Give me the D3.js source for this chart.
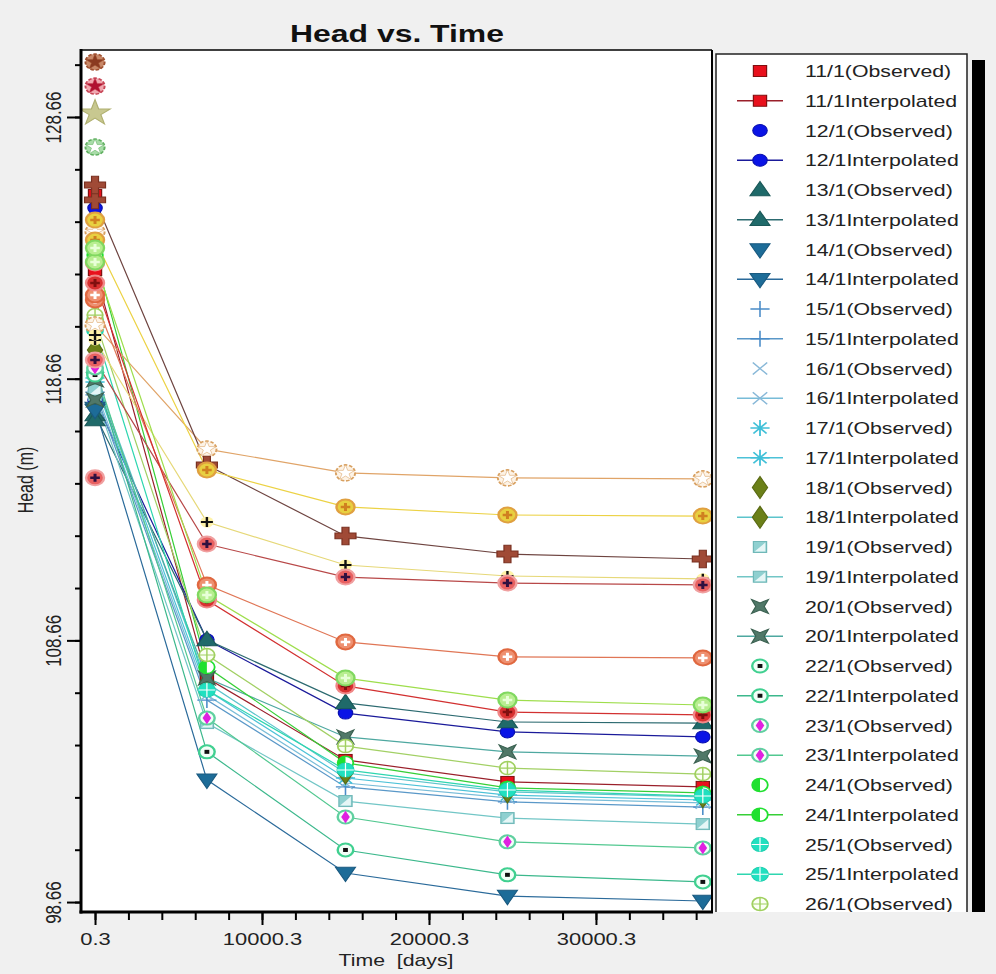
<!DOCTYPE html>
<html>
<head>
<meta charset="utf-8">
<script src="https://cdn.jsdelivr.net/npm/d3@7"></script>
<style>
  body { margin: 0; background: #f0f0f0; }
  text { font-family: "Liberation Sans", Arial, sans-serif; fill: #222; }
</style>
</head>
<body>
<svg id="chart" width="996" height="974"></svg>
<script>
// sample times (days)
var times = [0.3, 6700, 15000, 24700, 36400];

var wells = ["11/1", "12/1", "13/1", "14/1", "15/1", "16/1", "17/1", "18/1", "19/1", "20/1",
  "22/1", "23/1", "24/1", "25/1", "26/1", "27/1", "28/1", "29/1", "30/1", "31/1",
  "32/1", "33/1", "34/1", "35/1", "36/1", "37/1", "38/1"];

// observed head at t = 0.3
var observedHead = [125.68, 125.18, 117.08, 117.46, 118.04, 118.42, 118.69, 119.76, 118.23, 117.85,
  118.80, 120.90, 123.58, 123.77, 121.09, 124.27, 126.06, 124.72, 120.33, 114.87,
  121.86, 123.08, 123.65, 128.81, 129.84, 130.76, 127.51];

// interpolated head at each time
var interpolatedHead = [
  [122.81, 107.22, 104.09, 103.25, 103.06],
  [117.85, 108.68, 105.88, 105.16, 104.97],
  [117.27, 108.68, 106.27, 105.54, 105.50],
  [117.54, 103.33, 99.77, 98.89, 98.70],
  [118.15, 106.38, 103.06, 102.49, 102.29],
  [118.30, 106.57, 103.21, 102.64, 102.45],
  [118.53, 106.76, 103.40, 102.75, 102.56],
  [118.80, 107.03, 103.59, 102.87, 102.68],
  [118.04, 105.50, 102.52, 101.87, 101.64],
  [118.61, 107.22, 104.97, 104.40, 104.24],
  [118.92, 104.40, 100.65, 99.70, 99.43],
  [119.07, 105.69, 101.91, 100.96, 100.73],
  [123.39, 107.64, 103.98, 103.02, 102.83],
  [120.52, 106.76, 103.71, 102.94, 102.71],
  [120.90, 108.10, 104.62, 103.78, 103.55],
  [120.71, 115.97, 115.06, 114.87, 114.83],
  [125.49, 115.36, 112.65, 111.96, 111.77],
  [123.96, 115.17, 113.76, 113.45, 113.41],
  [120.14, 113.18, 111.54, 111.12, 111.01],
  [119.37, 112.34, 111.08, 110.85, 110.78],
  [121.67, 110.78, 108.60, 108.03, 107.99],
  [122.32, 110.20, 106.92, 105.92, 105.81],
  [123.12, 110.39, 107.22, 106.38, 106.19],
  null, null, null, null
];

var yTickValues = [98.66, 108.66, 118.66, 128.66];
var xTickValues = [0.3, 10000.3, 20000.3, 30000.3];

// styles per well
var lineColor = ["#9a1f2a", "#1a1a9a", "#2c6a70", "#2a6a9a", "#5a98c8", "#78bcd8", "#4cc2d8", "#5cc4cc", "#72c6c6", "#4ea8a0",
  "#3cb88c", "#52c890", "#36cf36", "#2ed6b0", "#a2d064", "#e0a468", "#6e4440", "#ecd244", "#e6d878", "#b84848",
  "#e07656", "#d23030", "#9ede4c", null, null, null, null];
var markerKind = ["square", "circle", "triUp", "triDown", "plus", "cross", "asterisk", "diamond", "halfSquare", "bowtie",
  "ringDot", "ringDiamond", "halfCircle", "crossCircle", "ringCross", "starRing", "blob", "ringX", "dotPlus", "ringX",
  "ringX", "ringX", "ringX", "star", "starRing", "starRing", "starRing"];
var markerFill = ["#e8101c", "#0a14e6", "#1f6a6a", "#1d6c98", "#4a8cc8", "#88b8d8", "#40c0d8", "#6b8018", "#8fd0d0", "#507868",
  "#40d090", "#60d0a0", "#20e030", "#20e0c0", "#a0d060", "#fdf3e6", "#a04a36", "#e8d040", "#fff3a8", "#e86060",
  "#ee9070", "#d83030", "#b8ee90", "#c8c890", "#f0a8b0", "#c88868", "#a8dca8"];
var markerStroke = ["#801010", "#0a10b0", "#1a5858", "#1a5a80", "none", "none", "none", "#5a6a14", "#70b8b8", "#3a6050",
  "#40d090", "#60d0a0", "#20d030", "#20d0b0", "#a0d060", "#d8a060", "#7a3020", "#e0a040", "none", "#f0a0a0",
  "#e06840", "#f08888", "#80d860", "#b0b070", "#c84858", "#a05030", "#60b060"];
var markerInner = [null, null, null, null, null, null, null, null, "#e6f6f6", null,
  "#111", "#e020e0", null, "#fff", null, "#fff", null, "#d08020", "#111", "#301040",
  "#fff", "#801010", "#e8ffd8", null, "#b01030", "#8a3a20", "#fff"];

var SX = 1.33; // the capture is stretched horizontally
var MX = 1.2;  // marker stretch

var svg = d3.select("#chart");
var plot = { left: 82, right: 712, top: 50, bottom: 912 };

var x = d3.scaleLinear().domain([-780, 36950]).range([plot.left, plot.right]);
var y = d3.scaleLinear().domain([98.28, 131.22]).range([plot.bottom, plot.top]);

svg.append("rect").attr("width", 996).attr("height", 974).attr("fill", "#f0f0f0");
svg.append("rect")
  .attr("x", plot.left).attr("y", plot.top)
  .attr("width", plot.right - plot.left).attr("height", plot.bottom - plot.top)
  .attr("fill", "#fff");

function drawMarker(g, k, fill, stroke, inner) {
  var sym = function (type, size) { return d3.symbol().type(type).size(size)(); };
  switch (k) {
    case "square":
      g.append("rect").attr("x", -5.5).attr("y", -5.5).attr("width", 11).attr("height", 11)
        .attr("fill", fill).attr("stroke", stroke);
      break;
    case "circle":
      g.append("circle").attr("r", 6).attr("fill", fill).attr("stroke", stroke);
      break;
    case "triUp":
      g.append("path").attr("d", sym(d3.symbolTriangle, 120)).attr("transform", "translate(0,1)")
        .attr("fill", fill).attr("stroke", stroke);
      break;
    case "triDown":
      g.append("path").attr("d", sym(d3.symbolTriangle, 120)).attr("transform", "rotate(180) translate(0,1)")
        .attr("fill", fill).attr("stroke", stroke);
      break;
    case "plus":
      g.append("path").attr("d", "M-8,0H8M0,-8V8").attr("stroke", fill).attr("stroke-width", 1.3).attr("fill", "none");
      break;
    case "cross":
      g.append("path").attr("d", "M-6,-6L6,6M6,-6L-6,6").attr("stroke", fill).attr("stroke-width", 1.3).attr("fill", "none");
      break;
    case "asterisk":
      g.append("path").attr("d", "M-8,0H8M0,-8V8M-5.5,-5.5L5.5,5.5M5.5,-5.5L-5.5,5.5")
        .attr("stroke", fill).attr("stroke-width", 1.5).attr("fill", "none");
      break;
    case "diamond":
      g.append("path").attr("d", sym(d3.symbolDiamond, 140)).attr("fill", fill).attr("stroke", stroke);
      break;
    case "halfSquare":
      g.append("rect").attr("x", -5.5).attr("y", -5.5).attr("width", 11).attr("height", 11)
        .attr("fill", fill).attr("stroke", stroke);
      g.append("path").attr("d", "M4.5,-4.5V4.5H-4.5Z").attr("fill", inner);
      break;
    case "bowtie":
      g.append("path").attr("d", "M-7,-7L0,-3.5L7,-7L3.5,0L7,7L0,3.5L-7,7L-3.5,0Z")
        .attr("fill", fill).attr("stroke", stroke);
      break;
    case "ringDot":
      g.append("circle").attr("r", 6.5).attr("fill", "#f2fff8").attr("stroke", fill).attr("stroke-width", 2);
      g.append("rect").attr("x", -2).attr("y", -2).attr("width", 4).attr("height", 4).attr("fill", inner);
      break;
    case "ringDiamond":
      g.append("circle").attr("r", 6.5).attr("fill", "#f2fff8").attr("stroke", fill).attr("stroke-width", 2);
      g.append("path").attr("d", sym(d3.symbolDiamond, 45)).attr("fill", inner);
      break;
    case "halfCircle":
      g.append("circle").attr("r", 6.5).attr("fill", "#fff").attr("stroke", fill).attr("stroke-width", 1.5);
      g.append("path").attr("d", "M0,-6.5A6.5,6.5 0 0 0 0,6.5Z").attr("fill", fill);
      break;
    case "crossCircle":
      g.append("circle").attr("r", 7).attr("fill", fill).attr("stroke", stroke);
      g.append("path").attr("d", "M-7,0H7M0,-7V7").attr("stroke", inner).attr("stroke-width", 1);
      break;
    case "ringCross":
      g.append("circle").attr("r", 6.5).attr("fill", "#fbfff4").attr("stroke", fill).attr("stroke-width", 1.5);
      g.append("path").attr("d", "M-6.5,0H6.5M0,-6.5V6.5").attr("stroke", fill).attr("stroke-width", 1.2);
      break;
    case "starRing":
      g.append("circle").attr("r", 8).attr("fill", fill).attr("stroke", stroke)
        .attr("stroke-width", 1.6).attr("stroke-dasharray", "3,1.5");
      g.append("path").attr("d", sym(d3.symbolStar, 75)).attr("fill", inner).attr("stroke", stroke).attr("stroke-width", 0.5);
      break;
    case "blob":
      g.append("path").attr("d", sym(d3.symbolCross, 170)).attr("fill", fill).attr("stroke", stroke);
      break;
    case "dotPlus":
      g.append("circle").attr("r", 5.5).attr("fill", fill);
      g.append("path").attr("d", "M-5,0H5M0,-5V5").attr("stroke", inner).attr("stroke-width", 2);
      break;
    case "ringX":
      g.append("circle").attr("r", 7.5).attr("fill", fill).attr("stroke", stroke).attr("stroke-width", 2);
      g.append("path").attr("d", "M-4,0H4M0,-4V4").attr("stroke", inner).attr("stroke-width", 2.5);
      break;
    case "star":
      g.append("path").attr("d", sym(d3.symbolStar, 200)).attr("fill", fill).attr("stroke", stroke);
      break;
  }
}

function at(px, py) {
  return "translate(" + px + "," + py + ") scale(" + MX + ",1)";
}

// ---- series
svg.append("clipPath").attr("id", "plotClip").append("rect")
  .attr("x", plot.left).attr("y", plot.top)
  .attr("width", plot.right - plot.left).attr("height", plot.bottom - plot.top);

var data = svg.append("g").attr("clip-path", "url(#plotClip)");
var line = d3.line().x(function (d, i) { return x(times[i]); }).y(function (d) { return y(d); });

wells.forEach(function (w, i) {
  var vals = interpolatedHead[i];
  if (!vals) return;
  data.append("path").attr("d", line(vals))
    .attr("fill", "none").attr("stroke", lineColor[i]).attr("stroke-width", 1.2);
});

wells.forEach(function (w, i) {
  var vals = interpolatedHead[i];
  if (vals) {
    vals.forEach(function (v, j) {
      var g = data.append("g").attr("transform", at(x(times[j]), y(v)));
      drawMarker(g, markerKind[i], markerFill[i], markerStroke[i], markerInner[i]);
    });
  }
  var go = data.append("g").attr("transform", at(x(times[0]), y(observedHead[i])));
  drawMarker(go, markerKind[i], markerFill[i], markerStroke[i], markerInner[i]);
});

// ---- axes
var yMinor = d3.range(0, 17).map(function (i) { return 98.66 + 2 * i; });
var xMinor = d3.range(0, 19).map(function (i) { return 0.3 + 2000 * i; });

svg.append("g").attr("transform", "translate(81,0)").style("color", "#000")
  .call(d3.axisLeft(y).tickValues(yMinor).tickSize(6).tickFormat(""))
  .call(function (g) { g.select(".domain").remove(); g.selectAll(".tick line").attr("stroke-width", 2); });

var gy = svg.append("g").attr("transform", "translate(81,0)").style("color", "#000")
  .call(d3.axisLeft(y).tickValues(yTickValues).tickSize(14).tickFormat(d3.format(".2f")));
gy.select(".domain").remove();
gy.selectAll(".tick line").attr("stroke-width", 2);
gy.selectAll(".tick text")
  .attr("x", 0).attr("dy", 0)
  .attr("font-size", 17)
  .attr("text-anchor", "middle")
  .attr("transform", "translate(-20,0) scale(" + SX + ",1) rotate(-90)");

svg.append("g").attr("transform", "translate(0,912)").style("color", "#000")
  .call(d3.axisBottom(x).tickValues(xMinor).tickSize(8).tickFormat(""))
  .call(function (g) { g.select(".domain").remove(); g.selectAll(".tick line").attr("stroke-width", 2); });

var gx = svg.append("g").attr("transform", "translate(0,912)").style("color", "#000")
  .call(d3.axisBottom(x).tickValues(xTickValues).tickSize(13).tickFormat(function (d) { return d.toFixed(1); }));
gx.select(".domain").remove();
gx.selectAll(".tick line").attr("stroke-width", 2);
gx.selectAll(".tick text")
  .attr("y", 0).attr("dy", 0)
  .attr("font-size", 16.5)
  .attr("transform", "translate(0,33) scale(" + SX + ",1)");

// frame
svg.append("line").attr("x1", plot.left).attr("x2", plot.right).attr("y1", plot.top).attr("y2", plot.top)
  .attr("stroke", "#000").attr("stroke-width", 1.5);
svg.append("line").attr("x1", plot.right).attr("x2", plot.right).attr("y1", plot.top).attr("y2", plot.bottom)
  .attr("stroke", "#000").attr("stroke-width", 2);
svg.append("line").attr("x1", 81).attr("x2", 81).attr("y1", plot.top - 1).attr("y2", plot.bottom + 1.5)
  .attr("stroke", "#000").attr("stroke-width", 3);
svg.append("line").attr("x1", 79.5).attr("x2", plot.right + 1).attr("y1", 912).attr("y2", 912)
  .attr("stroke", "#000").attr("stroke-width", 3);

// titles
svg.append("text").attr("transform", "translate(397,42) scale(" + SX + ",1)")
  .attr("text-anchor", "middle").attr("font-size", 24).attr("font-weight", "bold")
  .style("fill", "#111").text("Head vs. Time");
svg.append("text").attr("transform", "translate(396,966) scale(" + SX + ",1)")
  .attr("text-anchor", "middle").attr("font-size", 16).attr("xml:space", "preserve")
  .text("Time  [days]");
svg.append("text").attr("transform", "translate(33,480) scale(" + SX + ",1) rotate(-90)")
  .attr("text-anchor", "middle").attr("font-size", 16).text("Head (m)");

// ---- legend
var lg = { left: 716, right: 967, top: 54, bottom: 912 };
svg.append("rect").attr("x", lg.left).attr("y", lg.top)
  .attr("width", lg.right - lg.left).attr("height", lg.bottom - lg.top).attr("fill", "#fff");
svg.append("path")
  .attr("d", "M" + lg.left + "," + lg.bottom + "V" + lg.top + "H" + lg.right + "V" + lg.bottom)
  .attr("fill", "none").attr("stroke", "#222").attr("stroke-width", 1.5);
svg.append("rect").attr("x", 972).attr("y", 60).attr("width", 13).attr("height", 852).attr("fill", "#000");

svg.append("clipPath").attr("id", "legendClip").append("rect")
  .attr("x", lg.left).attr("y", lg.top).attr("width", lg.right - lg.left).attr("height", lg.bottom - lg.top);

var rows = [];
wells.forEach(function (w, i) {
  rows.push({ i: i, label: w + "(Observed)", line: false });
  if (interpolatedHead[i]) rows.push({ i: i, label: w + "Interpolated", line: true });
});

// only the rows that fit in the visible legend box
var legend = svg.append("g").attr("clip-path", "url(#legendClip)");
rows.forEach(function (r, k) {
  var cy = 71 + k * 29.75;
  if (cy + 6 > lg.bottom) return;
  if (r.line) {
    legend.append("line").attr("x1", 737).attr("x2", 783).attr("y1", cy).attr("y2", cy)
      .attr("stroke", lineColor[r.i]).attr("stroke-width", 1.3);
  }
  var g = legend.append("g").attr("transform", at(760, cy));
  drawMarker(g, markerKind[r.i], markerFill[r.i], markerStroke[r.i], markerInner[r.i]);
  legend.append("text").attr("transform", "translate(805," + (cy + 6) + ") scale(" + SX + ",1)")
    .attr("font-size", 16).text(r.label);
});
</script>
</body>
</html>
